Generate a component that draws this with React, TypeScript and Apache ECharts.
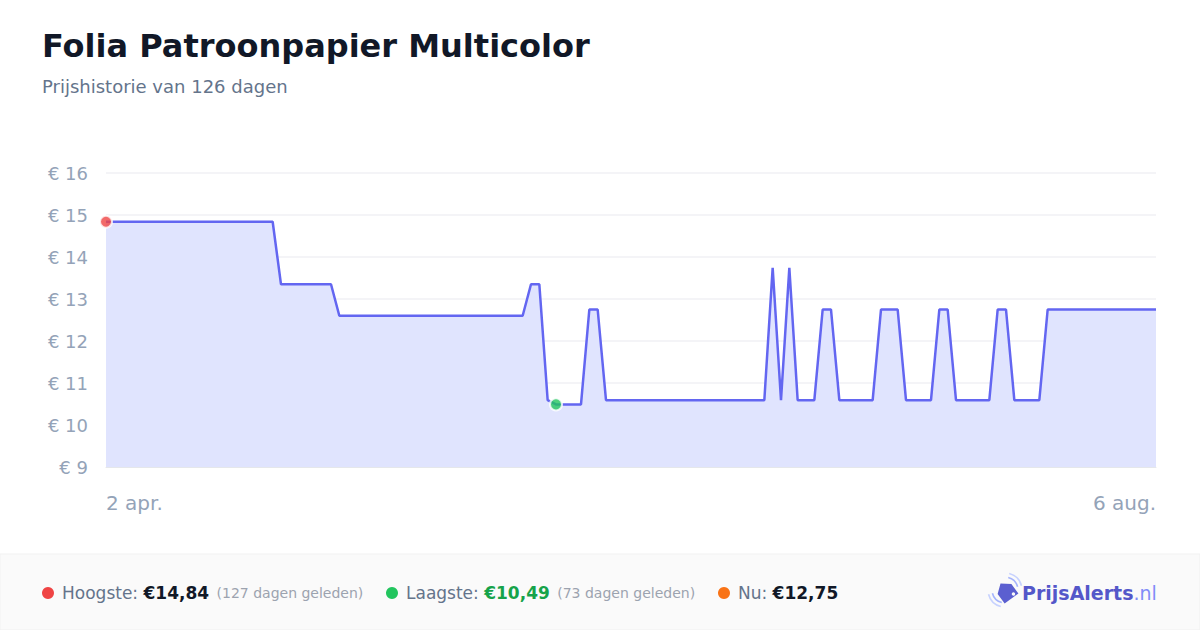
import React, { useEffect, useRef } from "react";
import * as echarts from "echarts";

const START_DATE = "2024-04-02";
const prices: number[] = [
  14.84, 14.84, 14.84, 14.84, 14.84, 14.84, 14.84, 14.84, 14.84, 14.84,
  14.84, 14.84, 14.84, 14.84, 14.84, 14.84, 14.84, 14.84, 14.84, 14.84,
  14.84, 13.35, 13.35, 13.35, 13.35, 13.35, 13.35, 13.35, 12.6, 12.6,
  12.6, 12.6, 12.6, 12.6, 12.6, 12.6, 12.6, 12.6, 12.6, 12.6,
  12.6, 12.6, 12.6, 12.6, 12.6, 12.6, 12.6, 12.6, 12.6, 12.6,
  12.6, 13.35, 13.35, 10.59, 10.49, 10.49, 10.49, 10.49, 12.75, 12.75,
  10.59, 10.59, 10.59, 10.59, 10.59, 10.59, 10.59, 10.59, 10.59, 10.59,
  10.59, 10.59, 10.59, 10.59, 10.59, 10.59, 10.59, 10.59, 10.59, 10.59,
  13.74, 10.59, 13.74, 10.59, 10.59, 10.59, 12.75, 12.75, 10.59, 10.59,
  10.59, 10.59, 10.59, 12.75, 12.75, 12.75, 10.59, 10.59, 10.59, 10.59,
  12.75, 12.75, 10.59, 10.59, 10.59, 10.59, 10.59, 12.75, 12.75, 10.59,
  10.59, 10.59, 10.59, 12.75, 12.75, 12.75, 12.75, 12.75, 12.75, 12.75,
  12.75, 12.75, 12.75, 12.75, 12.75, 12.75, 12.75,
];
const yTicks = [9, 10, 11, 12, 13, 14, 15, 16];
const MONTHS_NL = ["jan.", "feb.", "mrt.", "apr.", "mei", "jun.", "jul.", "aug.", "sep.", "okt.", "nov.", "dec."];
const TITLE = "Folia Patroonpapier Multicolor";
const SUBTITLE = "Prijshistorie van 126 dagen";
const HIGH_LABEL = "€14,84";
const HIGH_AGO = "(127 dagen geleden)";
const LOW_LABEL = "€10,49";
const LOW_AGO = "(73 dagen geleden)";
const NOW_LABEL = "€12,75";

const categories: string[] = prices.map((_, i) => {
  const d = new Date(START_DATE + "T12:00:00Z");
  d.setUTCDate(d.getUTCDate() + i);
  return `${d.getUTCDate()} ${MONTHS_NL[d.getUTCMonth()]}`;
});

const FONT = "DejaVu Sans";

export default function App() {
  const ref = useRef<HTMLDivElement>(null);
  useEffect(() => {
    if (!ref.current) return;
    const chart = echarts.init(ref.current, undefined, { renderer: "svg" });
    echarts.graphic.registerShape(
      "pa_tag",
      echarts.graphic.extendPath(
        "M10 0 L20 8 L20 22 L0 22 L0 8 Z M15 17 A2 2 0 1 0 15.01 17 Z",
        {}
      ) as any
    );
    let maxI = 0, minI = 0;
    prices.forEach((p, i) => {
      if (p > prices[maxI]) maxI = i;
      if (p < prices[minI]) minI = i;
    });
    const last = prices.length - 1;
    const arcStyle = (c: string) => ({ stroke: c, lineWidth: 1.6, fill: "none" });
    chart.setOption({
      animation: false,
      backgroundColor: "#ffffff",
      textStyle: { fontFamily: FONT },
      grid: { left: 106, right: 44, top: 173, bottom: 163 },
      xAxis: {
        type: "category",
        data: categories,
        boundaryGap: false,
        axisLine: { lineStyle: { color: "#e5e7eb", width: 1 } },
        axisTick: { show: false },
        splitLine: { show: false },
        axisLabel: {
          interval: (i: number) => i === 0 || i === last,
          color: "#94a3b8",
          fontSize: 20,
          margin: 26,
          fontFamily: FONT,
          alignMinLabel: "left",
          alignMaxLabel: "right",
        },
      },
      yAxis: {
        type: "value",
        min: yTicks[0],
        max: yTicks[yTicks.length - 1],
        interval: 1,
        axisLine: { show: false },
        axisTick: { show: false },
        splitLine: { lineStyle: { color: "#f0f1f4", width: 1.5 } },
        axisLabel: {
          color: "#94a3b8",
          fontSize: 18,
          margin: 18,
          fontFamily: FONT,
          formatter: (v: number) => `€ ${v}`,
        },
      },
      series: [
        {
          type: "line",
          data: prices,
          showSymbol: false,
          symbol: "none",
          lineStyle: { color: "#6366f1", width: 2.5 },
          areaStyle: { color: "#e0e4fe", opacity: 1 },
          z: 2,
        },
        {
          type: "scatter",
          data: [
            { value: [maxI, prices[maxI]], itemStyle: { color: "#ef4444" } },
            { value: [minI, prices[minI]], itemStyle: { color: "#22c55e" } },
          ],
          symbol: "circle",
          symbolSize: 12,
          itemStyle: { borderColor: "#ffffff", borderWidth: 2 },
          z: 5,
        },
      ],
      graphic: [
        {
          type: "text",
          left: 42,
          top: 30,
          style: { text: TITLE, fontFamily: FONT, fontWeight: "bold", fontSize: 32, fill: "#111827" },
        },
        {
          type: "text",
          left: 42,
          top: 77,
          style: { text: SUBTITLE, fontFamily: FONT, fontSize: 18, fill: "#64748b" },
        },
        {
          type: "rect",
          shape: { x: 0, y: 554, width: 1200, height: 76 },
          style: { fill: "#fafafa", stroke: "#f1f1f1", lineWidth: 1 },
          z: 0,
        },
        { type: "circle", shape: { cx: 48, cy: 593, r: 6 }, style: { fill: "#ef4444" } },
        {
          type: "text",
          x: 62,
          y: 593,
          style: {
            text: `{l|Hoogste: }{b|${HIGH_LABEL}}{s| ${HIGH_AGO}}`,
            verticalAlign: "middle",
            rich: {
              l: { fontFamily: FONT, fontSize: 17, fill: "#64748b" },
              b: { fontFamily: FONT, fontSize: 17, fontWeight: "bold", fill: "#111827" },
              s: { fontFamily: FONT, fontSize: 14, fill: "#9ca3af", padding: [0, 0, 0, 3] },
            },
          },
        },
        { type: "circle", shape: { cx: 392, cy: 593, r: 6 }, style: { fill: "#22c55e" } },
        {
          type: "text",
          x: 406,
          y: 593,
          style: {
            text: `{l|Laagste: }{b|${LOW_LABEL}}{s| ${LOW_AGO}}`,
            verticalAlign: "middle",
            rich: {
              l: { fontFamily: FONT, fontSize: 17, fill: "#64748b" },
              b: { fontFamily: FONT, fontSize: 17, fontWeight: "bold", fill: "#16a34a" },
              s: { fontFamily: FONT, fontSize: 14, fill: "#9ca3af", padding: [0, 0, 0, 3] },
            },
          },
        },
        { type: "circle", shape: { cx: 724, cy: 593, r: 6 }, style: { fill: "#f97316" } },
        {
          type: "text",
          x: 738,
          y: 593,
          style: {
            text: `{l|Nu: }{b|${NOW_LABEL}}`,
            verticalAlign: "middle",
            rich: {
              l: { fontFamily: FONT, fontSize: 17, fill: "#64748b" },
              b: { fontFamily: FONT, fontSize: 17, fontWeight: "bold", fill: "#111827" },
            },
          },
        },
        {
          type: "pa_tag",
          x: 996,
          y: 580,
          rotation: Math.PI / 5,
          originX: 10,
          originY: 11,
          scaleX: 0.85,
          scaleY: 0.85,
          style: { fill: "#5b5fd0" },
        },
        {
          type: "arc",
          shape: { cx: 1005, cy: 590, r: 13, startAngle: -Math.PI * 0.42, endAngle: -Math.PI * 0.08 },
          style: arcStyle("#a5b4fc"),
        },
        {
          type: "arc",
          shape: { cx: 1005, cy: 590, r: 17, startAngle: -Math.PI * 0.42, endAngle: -Math.PI * 0.08 },
          style: arcStyle("#c7d2fe"),
        },
        {
          type: "arc",
          shape: { cx: 1005, cy: 590, r: 13, startAngle: Math.PI * 0.58, endAngle: Math.PI * 0.92 },
          style: arcStyle("#a5b4fc"),
        },
        {
          type: "arc",
          shape: { cx: 1005, cy: 590, r: 17, startAngle: Math.PI * 0.58, endAngle: Math.PI * 0.92 },
          style: arcStyle("#c7d2fe"),
        },
        {
          type: "text",
          x: 1022,
          y: 593,
          style: {
            text: "{b|PrijsAlerts}{n|.nl}",
            verticalAlign: "middle",
            rich: {
              b: { fontFamily: FONT, fontSize: 19, fontWeight: "bold", fill: "#5457c9" },
              n: { fontFamily: FONT, fontSize: 19, fill: "#818cf8" },
            },
          },
        },
      ],
    });
    return () => chart.dispose();
  }, []);
  return (
    <div
      ref={ref}
      style={{ position: "fixed", left: 0, top: 0, width: 1200, height: 630 }}
    />
  );
}
